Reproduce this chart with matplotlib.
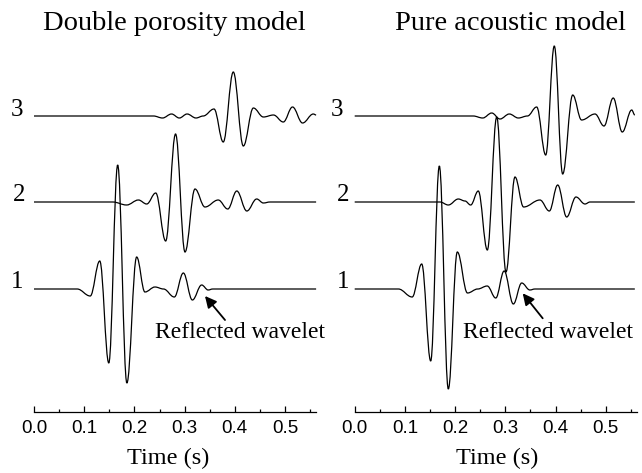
import numpy as np
import matplotlib
matplotlib.use("Agg")
import matplotlib.pyplot as plt
from matplotlib.path import Path
from matplotlib.patches import PathPatch
from matplotlib.ticker import MultipleLocator, FormatStrFormatter

# ---------------------------------------------------------------- data
# picked extrema of each trace: time (s) and amplitude (arbitrary units)
dp1_t = [0.0, 0.086, 0.112, 0.131, 0.149, 0.1667, 0.185, 0.2045, 0.221, 0.241,
         0.258, 0.2795, 0.2975, 0.3155, 0.334, 0.347, 0.356, 0.562]
dp1_a = [0.0, 0.0, -0.07, 0.28, -0.74, 1.24, -0.94, 0.32, -0.03, 0.02,
         0.0, -0.08, 0.16, -0.11, 0.04, -0.01, 0.0, 0.0]

dp2_t = [0.0, 0.157, 0.1845, 0.208, 0.2245, 0.2425, 0.2623, 0.282, 0.3008, 0.3207,
         0.3406, 0.367, 0.386, 0.404, 0.424, 0.4436, 0.457, 0.47, 0.562]
dp2_a = [0.0, 0.0, -0.03, 0.02, -0.02, 0.09, -0.39, 0.68, -0.50, 0.13,
         -0.05, 0.02, -0.07, 0.11, -0.09, 0.03, -0.01, 0.0, 0.0]

dp3_t = [0.0, 0.238, 0.256, 0.274, 0.2895, 0.305, 0.3227, 0.337, 0.3586, 0.377,
         0.397, 0.417, 0.437, 0.457, 0.477, 0.4966, 0.515, 0.535, 0.5564, 0.562]
dp3_a = [0.0, 0.0, -0.02, 0.02, -0.02, 0.02, -0.02, 0.0, 0.07, -0.26,
         0.44, -0.30, 0.08, -0.01, 0.01, -0.06, 0.09, -0.07, 0.02, 0.01]

pa1_t = [0.0, 0.087, 0.1145, 0.1335, 0.1514, 0.1686, 0.1865, 0.2044, 0.2247, 0.245,
         0.264, 0.281, 0.2977, 0.316, 0.3327, 0.349, 0.359, 0.558]
pa1_a = [0.0, 0.0, -0.08, 0.25, -0.72, 1.23, -1.00, 0.37, -0.04, 0.0,
         0.03, -0.09, 0.18, -0.15, 0.06, -0.01, 0.0, 0.0]

pa2_t = [0.0, 0.17, 0.1865, 0.2064, 0.2197, 0.231, 0.2462, 0.2642, 0.2829, 0.3014,
         0.3193, 0.3365, 0.369, 0.3877, 0.4044, 0.4223, 0.4408, 0.4588, 0.4687, 0.558]
pa2_a = [0.0, 0.0, -0.03, 0.03, 0.01, -0.03, 0.11, -0.48, 0.85, -0.70,
         0.25, -0.05, 0.02, -0.09, 0.17, -0.15, 0.05, -0.02, 0.0, 0.0]

pa3_t = [0.0, 0.236, 0.255, 0.273, 0.2894, 0.308, 0.326, 0.344, 0.3625, 0.3805,
         0.3976, 0.4143, 0.4343, 0.452, 0.4787, 0.4966, 0.515, 0.533, 0.5518, 0.558]
pa3_a = [0.0, 0.0, -0.02, 0.03, -0.03, 0.02, -0.02, 0.0, 0.09, -0.39,
         0.70, -0.58, 0.21, -0.04, 0.02, -0.10, 0.18, -0.16, 0.06, 0.01]

trace_names = ["1", "2", "3"]
trace_offsets = [0.0, 0.87, 1.73]
panel_titles = ["Double porosity model", "Pure acoustic model"]

panels = [
    [(dp1_t, dp1_a), (dp2_t, dp2_a), (dp3_t, dp3_a)],
    [(pa1_t, pa1_a), (pa2_t, pa2_a), (pa3_t, pa3_a)],
]

# ---------------------------------------------------------------- style
plt.rcParams['font.family'] = 'Liberation Serif'
W, H = 642, 473


def fx(x):
    return x / W


def fy(y):
    return 1 - y / H


def wiggle(ax, t, a, base, k=0.38):
    # smooth curve through the picked extrema (flat tangent at each one)
    verts = [(t[0], base + a[0])]
    codes = [Path.MOVETO]
    for i in range(1, len(t)):
        t0, t1 = t[i - 1], t[i]
        y0, y1 = base + a[i - 1], base + a[i]
        dt = t1 - t0
        verts += [(t0 + k * dt, y0), (t1 - k * dt, y1), (t1, y1)]
        codes += [Path.CURVE4] * 3
    patch = PathPatch(Path(verts, codes), facecolor='none', edgecolor='black',
                      lw=0.9, clip_on=False)
    ax.add_patch(patch)


fig = plt.figure(figsize=(W / 100, H / 100), dpi=100)

ax_left_px = [34, 354.7]
title_x = [174, 510]
xlabel_x = [168.3, 496.7]
label_x = [[17, 18.7, 16.7], [343, 343.5, 336.7]]
label_y = [288, 200.5, 116.5]
note_xy = [(0.241, -0.435), (0.2163, -0.435)]
arrow_head = [(0.3406, -0.07), (0.3347, -0.043)]
arrow_tail = [(0.3805, -0.31), (0.3745, -0.293)]

for p in range(2):
    ax = fig.add_axes([fx(ax_left_px[p]), fy(412), 0.562 * 502 / W, 372 / H])
    ax.set_xlim(0, 0.562)
    ax.set_ylim(-1.23, 2.49)
    for s in ['top', 'left', 'right']:
        ax.spines[s].set_visible(False)
    ax.spines['bottom'].set_linewidth(0.9)
    ax.set_yticks([])
    ax.xaxis.set_major_locator(MultipleLocator(0.1))
    ax.xaxis.set_minor_locator(MultipleLocator(0.05))
    ax.xaxis.set_major_formatter(FormatStrFormatter('%.1f'))
    ax.tick_params(axis='x', which='major', direction='in', length=4, width=0.9,
                   pad=6, labelsize=13.5)
    ax.tick_params(axis='x', which='minor', direction='in', length=2.5, width=0.9)
    for lab in ax.get_xticklabels():
        lab.set_fontfamily('Liberation Sans')

    for (t, a), off in zip(panels[p], trace_offsets):
        wiggle(ax, t, a, off)

    ax.annotate('', xy=arrow_head[p], xytext=arrow_tail[p],
                arrowprops=dict(arrowstyle='-|>', color='black', lw=1.3,
                                mutation_scale=17, shrinkA=0, shrinkB=0))
    ax.text(note_xy[p][0], note_xy[p][1], 'Reflected wavelet', fontsize=17,
            ha='left', va='center')

    fig.text(fx(title_x[p]), fy(23), panel_titles[p], fontsize=20.5,
             ha='center', va='center')
    fig.text(fx(xlabel_x[p]), fy(458), 'Time (s)', fontsize=17.5,
             ha='center', va='center')
    for name, lx, ly in zip(trace_names, label_x[p], label_y):
        fig.text(fx(lx), fy(ly), name, fontsize=18, ha='center', va='baseline')

fig.savefig('out.png', dpi=100)
